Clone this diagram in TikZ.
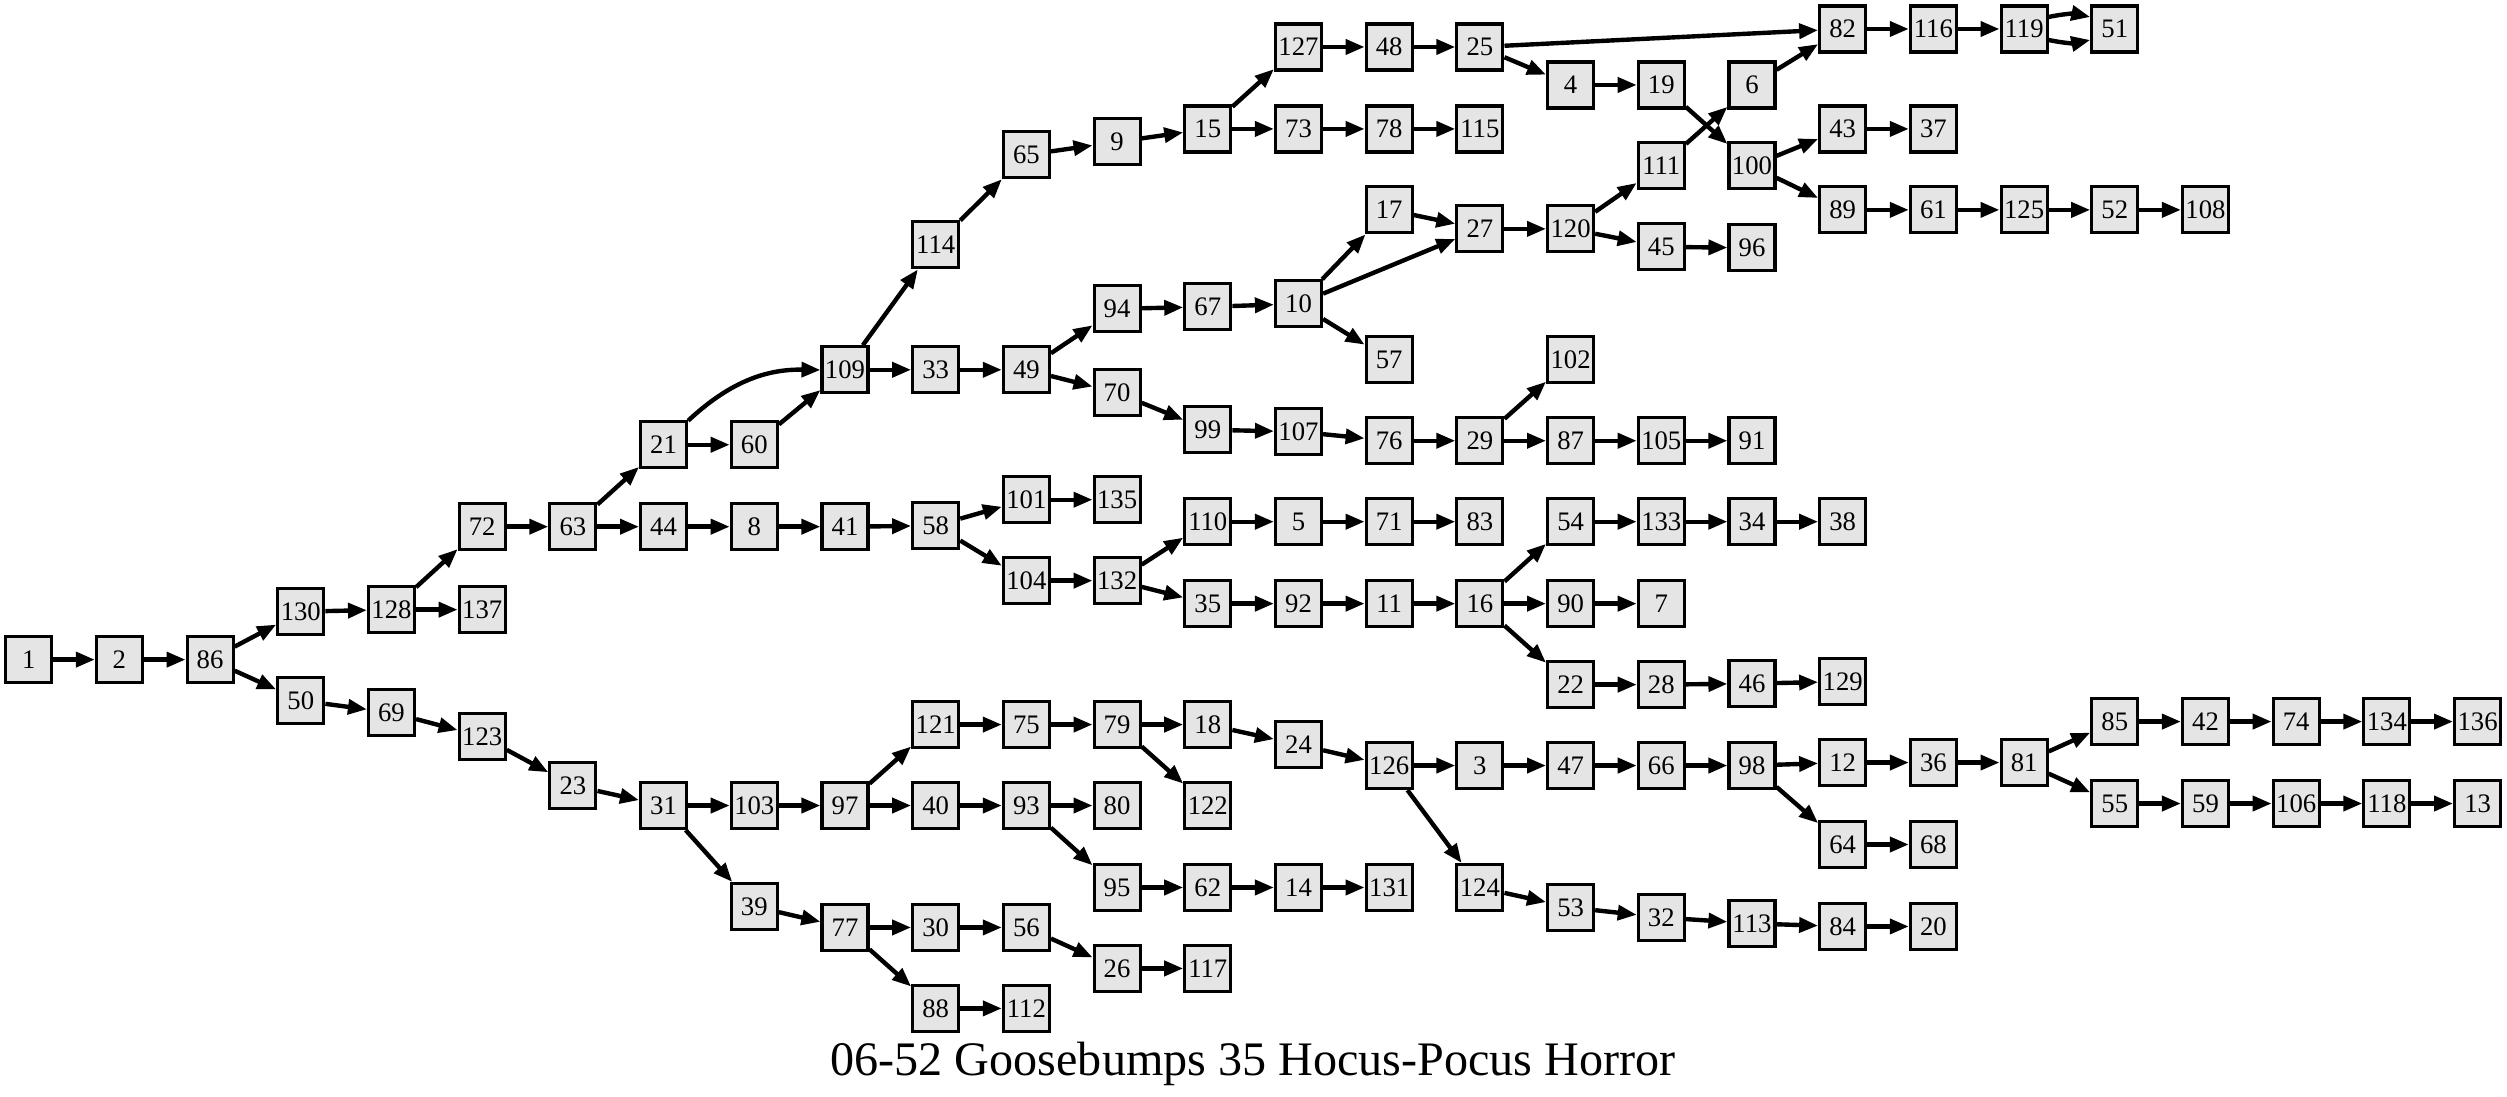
\documentclass[tikz,border=0pt]{standalone}
\usepackage{fontspec}
\setmainfont{Liberation Serif}
\usetikzlibrary{arrows.meta}

\begin{document}
\begin{tikzpicture}[x=0.907cm, y=0.01cm]
    \tikzset{
        pagebox/.style={
            draw=black, fill=gray!20, line width=0.9pt,
            minimum width=4.6mm, minimum height=4.6mm,
            inner sep=0pt, font=\fontsize{7.6}{8}\selectfont
        },
        jump/.style={
            draw=black, line width=1.25pt,
            -{Triangle[length=5.4pt, width=4.2pt]}
        },
    }
    \useasboundingbox (-0.287cm,0cm) rectangle (24.783cm,-10.97cm);

    % ==== Pages, column by column ====
    \node[pagebox] (p1) at (0,-660) {1};
    \node[pagebox] (p2) at (1,-660) {2};
    \node[pagebox] (p86) at (2,-660) {86};
    \node[pagebox] (p130) at (3,-612) {130};
    \node[pagebox] (p50) at (3,-701) {50};
    \node[pagebox] (p128) at (4,-610) {128};
    \node[pagebox] (p69) at (4,-713) {69};
    \node[pagebox] (p72) at (5,-527) {72};
    \node[pagebox] (p137) at (5,-610) {137};
    \node[pagebox] (p123) at (5,-737) {123};
    \node[pagebox] (p63) at (6,-527) {63};
    \node[pagebox] (p23) at (6,-786) {23};
    \node[pagebox] (p21) at (7,-445) {21};
    \node[pagebox] (p44) at (7,-527) {44};
    \node[pagebox] (p31) at (7,-806) {31};
    \node[pagebox] (p60) at (8,-445) {60};
    \node[pagebox] (p8) at (8,-527) {8};
    \node[pagebox] (p103) at (8,-806) {103};
    \node[pagebox] (p39) at (8,-907) {39};
    \node[pagebox] (p109) at (9,-370) {109};
    \node[pagebox] (p41) at (9,-527) {41};
    \node[pagebox] (p97) at (9,-806) {97};
    \node[pagebox] (p77) at (9,-928) {77};
    \node[pagebox] (p114) at (10,-245) {114};
    \node[pagebox] (p33) at (10,-370) {33};
    \node[pagebox] (p58) at (10,-526) {58};
    \node[pagebox] (p121) at (10,-725) {121};
    \node[pagebox] (p40) at (10,-806) {40};
    \node[pagebox] (p30) at (10,-928) {30};
    \node[pagebox] (p88) at (10,-1009) {88};
    \node[pagebox] (p65) at (11,-155) {65};
    \node[pagebox] (p49) at (11,-370) {49};
    \node[pagebox] (p101) at (11,-500) {101};
    \node[pagebox] (p104) at (11,-581) {104};
    \node[pagebox] (p75) at (11,-725) {75};
    \node[pagebox] (p93) at (11,-806) {93};
    \node[pagebox] (p56) at (11,-928) {56};
    \node[pagebox] (p112) at (11,-1009) {112};
    \node[pagebox] (p9) at (12,-142) {9};
    \node[pagebox] (p94) at (12,-309) {94};
    \node[pagebox] (p70) at (12,-393) {70};
    \node[pagebox] (p135) at (12,-500) {135};
    \node[pagebox] (p132) at (12,-581) {132};
    \node[pagebox] (p79) at (12,-725) {79};
    \node[pagebox] (p80) at (12,-806) {80};
    \node[pagebox] (p95) at (12,-888) {95};
    \node[pagebox] (p26) at (12,-969) {26};
    \node[pagebox] (p15) at (13,-129) {15};
    \node[pagebox] (p67) at (13,-307) {67};
    \node[pagebox] (p99) at (13,-430) {99};
    \node[pagebox] (p110) at (13,-522) {110};
    \node[pagebox] (p35) at (13,-604) {35};
    \node[pagebox] (p18) at (13,-725) {18};
    \node[pagebox] (p122) at (13,-806) {122};
    \node[pagebox] (p62) at (13,-888) {62};
    \node[pagebox] (p117) at (13,-969) {117};
    \node[pagebox] (p127) at (14,-47) {127};
    \node[pagebox] (p73) at (14,-129) {73};
    \node[pagebox] (p10) at (14,-304) {10};
    \node[pagebox] (p107) at (14,-432) {107};
    \node[pagebox] (p5) at (14,-522) {5};
    \node[pagebox] (p92) at (14,-604) {92};
    \node[pagebox] (p24) at (14,-745) {24};
    \node[pagebox] (p14) at (14,-888) {14};
    \node[pagebox] (p48) at (15,-47) {48};
    \node[pagebox] (p78) at (15,-129) {78};
    \node[pagebox] (p17) at (15,-210) {17};
    \node[pagebox] (p57) at (15,-360) {57};
    \node[pagebox] (p76) at (15,-441) {76};
    \node[pagebox] (p71) at (15,-522) {71};
    \node[pagebox] (p11) at (15,-604) {11};
    \node[pagebox] (p126) at (15,-766) {126};
    \node[pagebox] (p131) at (15,-888) {131};
    \node[pagebox] (p25) at (16,-47) {25};
    \node[pagebox] (p115) at (16,-129) {115};
    \node[pagebox] (p27) at (16,-229) {27};
    \node[pagebox] (p29) at (16,-441) {29};
    \node[pagebox] (p83) at (16,-522) {83};
    \node[pagebox] (p16) at (16,-604) {16};
    \node[pagebox] (p3) at (16,-766) {3};
    \node[pagebox] (p124) at (16,-888) {124};
    \node[pagebox] (p4) at (17,-85) {4};
    \node[pagebox] (p120) at (17,-229) {120};
    \node[pagebox] (p102) at (17,-360) {102};
    \node[pagebox] (p87) at (17,-441) {87};
    \node[pagebox] (p54) at (17,-522) {54};
    \node[pagebox] (p90) at (17,-604) {90};
    \node[pagebox] (p22) at (17,-685) {22};
    \node[pagebox] (p47) at (17,-766) {47};
    \node[pagebox] (p53) at (17,-908) {53};
    \node[pagebox] (p19) at (18,-85) {19};
    \node[pagebox] (p111) at (18,-166) {111};
    \node[pagebox] (p45) at (18,-247) {45};
    \node[pagebox] (p105) at (18,-441) {105};
    \node[pagebox] (p133) at (18,-522) {133};
    \node[pagebox] (p7) at (18,-604) {7};
    \node[pagebox] (p28) at (18,-685) {28};
    \node[pagebox] (p66) at (18,-766) {66};
    \node[pagebox] (p32) at (18,-918) {32};
    \node[pagebox] (p6) at (19,-85) {6};
    \node[pagebox] (p100) at (19,-166) {100};
    \node[pagebox] (p96) at (19,-248) {96};
    \node[pagebox] (p91) at (19,-441) {91};
    \node[pagebox] (p34) at (19,-522) {34};
    \node[pagebox] (p46) at (19,-684) {46};
    \node[pagebox] (p98) at (19,-766) {98};
    \node[pagebox] (p113) at (19,-924) {113};
    \node[pagebox] (p82) at (20,-29) {82};
    \node[pagebox] (p43) at (20,-129) {43};
    \node[pagebox] (p89) at (20,-210) {89};
    \node[pagebox] (p38) at (20,-522) {38};
    \node[pagebox] (p129) at (20,-682) {129};
    \node[pagebox] (p12) at (20,-763) {12};
    \node[pagebox] (p64) at (20,-845) {64};
    \node[pagebox] (p84) at (20,-927) {84};
    \node[pagebox] (p116) at (21,-29) {116};
    \node[pagebox] (p37) at (21,-129) {37};
    \node[pagebox] (p61) at (21,-210) {61};
    \node[pagebox] (p36) at (21,-763) {36};
    \node[pagebox] (p68) at (21,-845) {68};
    \node[pagebox] (p20) at (21,-927) {20};
    \node[pagebox] (p119) at (22,-29) {119};
    \node[pagebox] (p125) at (22,-210) {125};
    \node[pagebox] (p81) at (22,-763) {81};
    \node[pagebox] (p51) at (23,-29) {51};
    \node[pagebox] (p52) at (23,-210) {52};
    \node[pagebox] (p85) at (23,-722) {85};
    \node[pagebox] (p55) at (23,-804) {55};
    \node[pagebox] (p108) at (24,-210) {108};
    \node[pagebox] (p42) at (24,-722) {42};
    \node[pagebox] (p59) at (24,-804) {59};
    \node[pagebox] (p74) at (25,-722) {74};
    \node[pagebox] (p106) at (25,-804) {106};
    \node[pagebox] (p134) at (26,-722) {134};
    \node[pagebox] (p118) at (26,-804) {118};
    \node[pagebox] (p136) at (27,-722) {136};
    \node[pagebox] (p13) at (27,-804) {13};

    % ==== Title ====
    \node[anchor=base, font=\fontsize{13.7}{16}\selectfont] (title) at (13.5,-1076)
        {06-52 Goosebumps 35 Hocus-Pocus Horror};

    % ==== Start and upper branch ====
    \draw[jump] (p1) -- (p2);   \draw[jump] (p2) -- (p86);
    \draw[jump] (p86) -- (p130); \draw[jump] (p86) -- (p50);
    \draw[jump] (p130) -- (p128); \draw[jump] (p128) -- (p72);
    \draw[jump] (p128) -- (p137); \draw[jump] (p72) -- (p63);
    \draw[jump] (p63) -- (p21); \draw[jump] (p63) -- (p44);
    \draw[jump] (p44) -- (p8);  \draw[jump] (p8) -- (p41);
    \draw[jump] (p41) -- (p58); \draw[jump] (p58) -- (p101);
    \draw[jump] (p58) -- (p104); \draw[jump] (p101) -- (p135);
    \draw[jump] (p104) -- (p132); \draw[jump] (p132) -- (p110);
    \draw[jump] (p132) -- (p35); \draw[jump] (p110) -- (p5);
    \draw[jump] (p5) -- (p71);  \draw[jump] (p71) -- (p83);
    \draw[jump] (p35) -- (p92); \draw[jump] (p92) -- (p11);
    \draw[jump] (p11) -- (p16); \draw[jump] (p16) -- (p54);
    \draw[jump] (p16) -- (p90); \draw[jump] (p16) -- (p22);
    \draw[jump] (p54) -- (p133); \draw[jump] (p133) -- (p34);
    \draw[jump] (p34) -- (p38); \draw[jump] (p90) -- (p7);
    \draw[jump] (p22) -- (p28); \draw[jump] (p28) -- (p46);
    \draw[jump] (p46) -- (p129);

    % ==== Via 109 ====
    \draw[jump] (p21) to[bend left=22] (p109);
    \draw[jump] (p21) -- (p60); \draw[jump] (p60) -- (p109);
    \draw[jump] (p109) -- (p114); \draw[jump] (p109) -- (p33);
    \draw[jump] (p114) -- (p65); \draw[jump] (p65) -- (p9);
    \draw[jump] (p9) -- (p15);  \draw[jump] (p15) -- (p127);
    \draw[jump] (p15) -- (p73); \draw[jump] (p73) -- (p78);
    \draw[jump] (p78) -- (p115); \draw[jump] (p127) -- (p48);
    \draw[jump] (p48) -- (p25); \draw[jump] (p25) -- (p82);
    \draw[jump] (p25) -- (p4);  \draw[jump] (p4) -- (p19);
    \draw[jump] (p19) -- (p100); \draw[jump] (p82) -- (p116);
    \draw[jump] (p116) -- (p119);
    \draw[jump] ([yshift=1.2mm]p119.east) to[bend left=12] ([yshift=1.2mm]p51.west);
    \draw[jump] ([yshift=-1.1mm]p119.east) to[bend right=12] ([yshift=-1.1mm]p51.west);
    \draw[jump] (p100) -- (p43); \draw[jump] (p100) -- (p89);
    \draw[jump] (p43) -- (p37); \draw[jump] (p89) -- (p61);
    \draw[jump] (p61) -- (p125); \draw[jump] (p125) -- (p52);
    \draw[jump] (p52) -- (p108);
    \draw[jump] (p33) -- (p49); \draw[jump] (p49) -- (p94);
    \draw[jump] (p49) -- (p70); \draw[jump] (p94) -- (p67);
    \draw[jump] (p67) -- (p10); \draw[jump] (p10) -- (p17);
    \draw[jump] (p10) -- (p27); \draw[jump] (p10) -- (p57);
    \draw[jump] (p17) -- (p27); \draw[jump] (p27) -- (p120);
    \draw[jump] (p120) -- (p111); \draw[jump] (p120) -- (p45);
    \draw[jump] (p111) -- (p6); \draw[jump] (p6) -- (p82);
    \draw[jump] (p45) -- (p96);
    \draw[jump] (p70) -- (p99); \draw[jump] (p99) -- (p107);
    \draw[jump] (p107) -- (p76); \draw[jump] (p76) -- (p29);
    \draw[jump] (p29) -- (p102); \draw[jump] (p29) -- (p87);
    \draw[jump] (p87) -- (p105); \draw[jump] (p105) -- (p91);

    % ==== Lower branch ====
    \draw[jump] (p50) -- (p69); \draw[jump] (p69) -- (p123);
    \draw[jump] (p123) -- (p23); \draw[jump] (p23) -- (p31);
    \draw[jump] (p31) -- (p103); \draw[jump] (p31) -- (p39);
    \draw[jump] (p103) -- (p97); \draw[jump] (p97) -- (p121);
    \draw[jump] (p97) -- (p40); \draw[jump] (p121) -- (p75);
    \draw[jump] (p75) -- (p79); \draw[jump] (p79) -- (p18);
    \draw[jump] (p79) -- (p122); \draw[jump] (p18) -- (p24);
    \draw[jump] (p24) -- (p126); \draw[jump] (p126) -- (p3);
    \draw[jump] (p126) -- (p124); \draw[jump] (p3) -- (p47);
    \draw[jump] (p47) -- (p66); \draw[jump] (p66) -- (p98);
    \draw[jump] (p98) -- (p12); \draw[jump] (p98) -- (p64);
    \draw[jump] (p12) -- (p36); \draw[jump] (p36) -- (p81);
    \draw[jump] (p81) -- (p85); \draw[jump] (p81) -- (p55);
    \draw[jump] (p85) -- (p42); \draw[jump] (p42) -- (p74);
    \draw[jump] (p74) -- (p134); \draw[jump] (p134) -- (p136);
    \draw[jump] (p55) -- (p59); \draw[jump] (p59) -- (p106);
    \draw[jump] (p106) -- (p118); \draw[jump] (p118) -- (p13);
    \draw[jump] (p64) -- (p68); \draw[jump] (p124) -- (p53);
    \draw[jump] (p53) -- (p32); \draw[jump] (p32) -- (p113);
    \draw[jump] (p113) -- (p84); \draw[jump] (p84) -- (p20);
    \draw[jump] (p40) -- (p93); \draw[jump] (p93) -- (p80);
    \draw[jump] (p93) -- (p95); \draw[jump] (p95) -- (p62);
    \draw[jump] (p62) -- (p14); \draw[jump] (p14) -- (p131);
    \draw[jump] (p39) -- (p77); \draw[jump] (p77) -- (p30);
    \draw[jump] (p77) -- (p88); \draw[jump] (p30) -- (p56);
    \draw[jump] (p56) -- (p26); \draw[jump] (p26) -- (p117);
    \draw[jump] (p88) -- (p112);

\end{tikzpicture}
\end{document}
